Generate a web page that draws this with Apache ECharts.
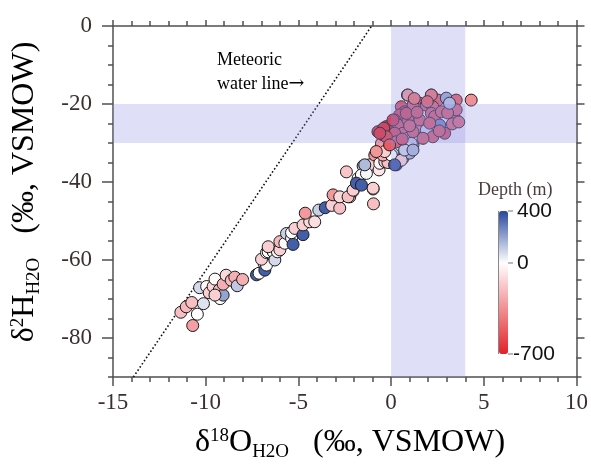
<!DOCTYPE html>
<html>
<head>
<meta charset="utf-8">
<script src="https://cdn.jsdelivr.net/npm/echarts@6/dist/echarts.min.js"></script>
<style>
    html, body {margin: 0; padding: 0; background: #fff;}
    #main {width: 591px; height: 472px;}
</style>
</head>
<body>
<div id="main"></div>
<script>
// δ18O (x), δ2H (y) and sampling depth (m) of each water sample
var d18O = [
    -11.34, -11.05, -10.75, -10.70, -10.45, -10.12, -10.33, -9.95, -9.81, -9.60,
    -9.50, -9.27, -9.22, -9.06, -9.06, -8.90, -8.62, -8.43, -8.30, -8.01, -9.50,
    -7.26, -7.12, -6.85, -6.81, -6.72, -6.99, -6.72, -6.63, -6.36, -6.27,
    -6.13, -6.63, -6.00, -6.00, -5.73, -5.64, -5.37, -5.29, -5.37, -5.19,
    -4.75, -4.75, -4.39, -4.12, -4.63, -3.90, -3.55, -3.20, -2.77, -3.13,
    -2.77, -2.23, -2.05, -2.32, -2.05, -0.95, -0.97, -2.41, -1.51, -1.15,
    -1.78, -1.60, -1.33, -1.87, -1.60, -0.65, -0.88, -0.61, -0.34, -0.17,
    -0.44, 0.10, 0.28, 0.46, 0.64, 0.82, 1.00, -0.52, -0.44, -0.71,
    0.01, 0.55, -0.34, 1.18, -0.80, 0.88, 1.54, 2.17, 2.53, 2.98,
    3.51, 4.32, 1.90, 2.25, 1.18, 0.55, 0.73, 0.46, 0.19, -0.26,
    -0.40, 0.37, 0.64, 0.19, 0.28, 0.91, 1.09, 1.54, 1.18, 1.90,
    2.17, 2.35, 2.71, 2.62, 2.89, 2.25, 1.72, 3.43, 3.25, 3.51,
    0.73, 1.18, -0.26, -0.08, 1.54, 0.91, 2.08, -0.61, 0.10, 0.82,
    0.91, 2.17, -1.42, -0.97, 0.19, 3.05, 3.30, 1.95, 1.40, 1.00,
    0.60, 3.65, 2.60, 3.15, 1.25
];
var d2H = [
    -73.4, -72.0, -70.9, -76.8, -73.9, -71.2, -67.1, -66.8, -68.4, -66.8,
    -64.9, -67.7, -69.9, -69.0, -66.2, -63.9, -65.2, -64.4, -66.6, -65.0, -69.0,
    -63.8, -63.4, -60.9, -62.6, -61.3, -59.8, -58.1, -57.9, -57.9, -60.0,
    -57.9, -56.6, -57.4, -55.3, -55.7, -53.2, -54.4, -56.0, -53.0, -51.9,
    -53.5, -51.0, -50.2, -50.2, -48.0, -47.2, -46.6, -46.0, -46.7, -43.3,
    -43.8, -43.8, -42.3, -43.8, -42.1, -45.6, -41.8, -37.4, -35.9, -35.6,
    -39.1, -38.2, -37.8, -40.3, -40.8, -36.9, -33.1, -35.2, -34.8, -35.0,
    -33.1, -32.8, -35.6, -34.4, -33.9, -32.2, -32.6, -30.1, -27.9, -27.1,
    -33.1, -34.4, -32.2, -30.5, -32.2, -17.7, -19.8, -17.7, -19.0, -18.5,
    -19.0, -19.0, -20.3, -20.7, -20.3, -20.7, -22.0, -22.8, -24.1, -25.8,
    -26.2, -25.4, -27.5, -27.5, -29.7, -28.8, -30.1, -25.8, -27.1, -26.7,
    -22.4, -23.2, -22.0, -25.4, -27.5, -28.4, -28.8, -23.7, -21.1, -21.5,
    -31.8, -31.8, -28.4, -30.5, -24.1, -24.1, -24.9, -27.5, -24.1, -22.4,
    -17.7, -17.7, -35.6, -41.6, -35.6, -22.3, -25.1, -19.4, -22.1, -25.6,
    -29.0, -24.6, -26.9, -19.8, -18.6
];
var depth = [
    -200, -220, -200, -300, 0, 60, 80, -10, -150, -130,
    -20, -220, 0, 200, -250, -120, -220, -250, 120, -250, -150,
    350, 0, 0, 350, -20, -150, -10, 0, -30, 80,
    -20, -150, -150, -220, -20, 100, -20, 350, -10, -150,
    350, -150, -120, -100, -320, 100, 350, -150, -200, -320,
    -120, -200, -220, -200, -150, -200, -180, -180, 150, -150,
    0, -10, 20, 350, 350, -80, -320, -30, -150, -200,
    -250, 80, 350, 0, 80, 80, 150, -320, -650, -600,
    0, -130, -150, 150, -330, -250, -520, -480, -480, 180,
    -480, -350, -500, -480, -500, -560, -640, -580, -640, -660,
    -660, -540, -520, -580, -520, 120, 80, -350, -520, 60,
    -500, -520, -500, 250, -560, -520, -500, -500, -480, -480,
    80, 150, -580, -520, -520, -540, -520, -640, -640, -580,
    -300, -420, 150, -150, 350, -500, -460, -480, -540, -500,
    -560, -460, -520, 120, -420
];

// meteoric water line end points
var mwlX = [-13.9, -1.05];
var mwlY = [-90, 0];
// shaded ranges
var bandX = [0, 4];
var bandY = [-30, -20];

var xTicks = [-15, -10, -5, 0, 5, 10];
var yTicks = [0, -20, -40, -60, -80];
var depthMin = -700;
var depthMax = 400;
var depthLabels = [400, 0, -700];

var serif = '"Liberation Serif", "Times New Roman", serif';
var textColor = '#3a3030';
var axisColor = '#505050';

// colour ramp red -> white (0 m) -> blue
function mix(a, b, t) {
    var c = [];
    for (var i = 0; i < 3; i++) {
        c.push(Math.round(a[i] + (b[i] - a[i]) * t));
    }
    return 'rgb(' + c.join(',') + ')';
}
var red = [227, 32, 40], white = [255, 255, 255], blue = [40, 72, 158];
var ramp = [];
for (var v = depthMin; v <= depthMax; v += 100) {
    ramp.push(v <= 0 ? mix(red, white, (v - depthMin) / -depthMin) : mix(white, blue, v / depthMax));
}

var points = [];
for (var i = 0; i < d18O.length; i++) {
    points.push([d18O[i], d2H[i], depth[i]]);
}
var mwl = [];
for (var j = 0; j < mwlX.length; j++) {
    mwl.push([mwlX[j], mwlY[j]]);
}

// colour bar geometry
var barLeft = 499, barTop = 211, barW = 9, barH = 143;
function barY(val) {
    return barTop + (depthMax - val) / (depthMax - depthMin) * barH;
}

var richTitle = {
    a: {fontFamily: serif, fontSize: 32, color: textColor},
    p: {fontFamily: serif, fontSize: 19, color: textColor, padding: [0, 0, 14, 0]},
    b: {fontFamily: serif, fontSize: 19, color: textColor, padding: [18, 0, 0, 0]}
};

var graphics = [
    {
        type: 'text', left: 217, top: 51, silent: true,
        style: {
            text: '{t|Meteoric}\n{t|water line}{r|→}',
            rich: {
                t: {fontFamily: serif, fontSize: 18, color: textColor, lineHeight: 24},
                r: {fontFamily: '"DejaVu Serif", serif', fontSize: 19, color: textColor, lineHeight: 24}
            }
        }
    },
    {
        type: 'text', left: 478, top: 181, silent: true,
        style: {text: 'Depth (m)', font: '18px ' + serif, fill: '#4a3c3c'}
    },
    {
        type: 'text', x: 350, y: 443, silent: true,
        style: {
            text: '{a|δ}{p|18}{a|O}{b|H2O}{a|   (‰, VSMOW)}',
            align: 'center', verticalAlign: 'middle', rich: richTitle
        }
    },
    {
        type: 'text', x: 25, y: 192, rotation: Math.PI / 2, silent: true,
        style: {
            text: '{a|δ}{p|2}{a|H}{b|H2O}{a|   (‰, VSMOW)}',
            align: 'center', verticalAlign: 'middle', rich: richTitle
        }
    },
    {
        type: 'line', silent: true,
        shape: {x1: barLeft - 0.5, y1: barTop, x2: barLeft - 0.5, y2: barTop + barH},
        style: {stroke: '#888', lineWidth: 1}
    }
];
depthLabels.forEach(function (val) {
    var y = barY(val);
    graphics.push({
        type: 'line', silent: true,
        shape: {x1: val === 0 ? barLeft : barLeft + barW, y1: y, x2: barLeft + barW + 5, y2: y},
        style: {stroke: '#777', lineWidth: 1}
    });
    graphics.push({
        type: 'text', x: val < 0 ? 513 : 517, y: y, silent: true,
        style: {
            text: String(val), font: '21px "Liberation Sans", Arial, sans-serif', fill: '#111',
            verticalAlign: 'middle'
        }
    });
});

var lineStyle = {color: axisColor, width: 1.5};
var labelStyle = {fontFamily: serif, fontSize: 23, color: textColor};

var option = {
    animation: false,
    grid: {left: 113, right: 14, top: 26, bottom: 95},
    xAxis: [
        {
            type: 'value', min: xTicks[0], max: xTicks[xTicks.length - 1], interval: 5, position: 'bottom',
            axisLine: {onZero: false, lineStyle: lineStyle},
            axisTick: {inside: false, length: 9, lineStyle: lineStyle},
            minorTick: {show: true, splitNumber: 5, length: 5, lineStyle: lineStyle},
            splitLine: {show: false},
            axisLabel: {margin: 14, fontFamily: labelStyle.fontFamily, fontSize: labelStyle.fontSize, color: textColor}
        },
        {
            type: 'value', min: xTicks[0], max: xTicks[xTicks.length - 1], interval: 5, position: 'top',
            axisLine: {onZero: false, lineStyle: lineStyle},
            axisTick: {inside: false, length: 6, lineStyle: lineStyle},
            minorTick: {show: true, splitNumber: 5, length: 5, lineStyle: lineStyle},
            splitLine: {show: false},
            axisLabel: {show: false}
        }
    ],
    yAxis: [
        {
            type: 'value', min: -90, max: 0, position: 'left',
            axisLine: {onZero: false, lineStyle: lineStyle},
            axisTick: {inside: false, length: 11, lineStyle: lineStyle, customValues: yTicks},
            splitLine: {show: false},
            axisLabel: {margin: 21, customValues: yTicks, fontFamily: labelStyle.fontFamily, fontSize: labelStyle.fontSize, color: textColor}
        },
        {
            type: 'value', min: -90, max: 0, position: 'right',
            axisLine: {onZero: false, lineStyle: lineStyle},
            axisTick: {inside: false, length: 8, lineStyle: lineStyle, customValues: yTicks},
            splitLine: {show: false},
            axisLabel: {show: false}
        },
        {
            type: 'value', min: -90, max: 0, interval: 5, position: 'left',
            axisLine: {show: false, onZero: false},
            axisTick: {inside: false, length: 5, lineStyle: lineStyle},
            splitLine: {show: false},
            axisLabel: {show: false}
        },
        {
            type: 'value', min: -90, max: 0, interval: 5, position: 'right',
            axisLine: {show: false, onZero: false},
            axisTick: {inside: false, length: 5, lineStyle: lineStyle},
            splitLine: {show: false},
            axisLabel: {show: false}
        }
    ],
    visualMap: {
        type: 'continuous', min: depthMin, max: depthMax, dimension: 2, seriesIndex: 0,
        left: barLeft, top: barTop, itemWidth: barW, itemHeight: barH, padding: 0,
        calculable: false, hoverLink: false, text: null, showLabel: false,
        inRange: {color: ramp}
    },
    series: [
        {
            name: 'samples', type: 'scatter', data: points, z: 3,
            symbolSize: 12,
            itemStyle: {borderColor: '#1a1a1a', borderWidth: 1, opacity: 1}
        },
        {
            name: 'MWL', type: 'line', data: mwl, z: 2, symbol: 'none', silent: true,
            lineStyle: {color: '#111', width: 1.6, type: [1.6, 2.2]}
        },
        {
            name: 'bands', type: 'line', data: [], z: 5, silent: true,
            markArea: {
                silent: true, z: 10,
                itemStyle: {color: 'rgba(140,140,228,0.28)'},
                data: [
                    [{xAxis: bandX[0]}, {xAxis: bandX[1]}],
                    [{yAxis: bandY[0]}, {yAxis: bandY[1]}]
                ]
            }
        }
    ],
    graphic: graphics
};

var myChart = echarts.init(document.getElementById('main'));
myChart.setOption(option);
</script>
</body>
</html>
